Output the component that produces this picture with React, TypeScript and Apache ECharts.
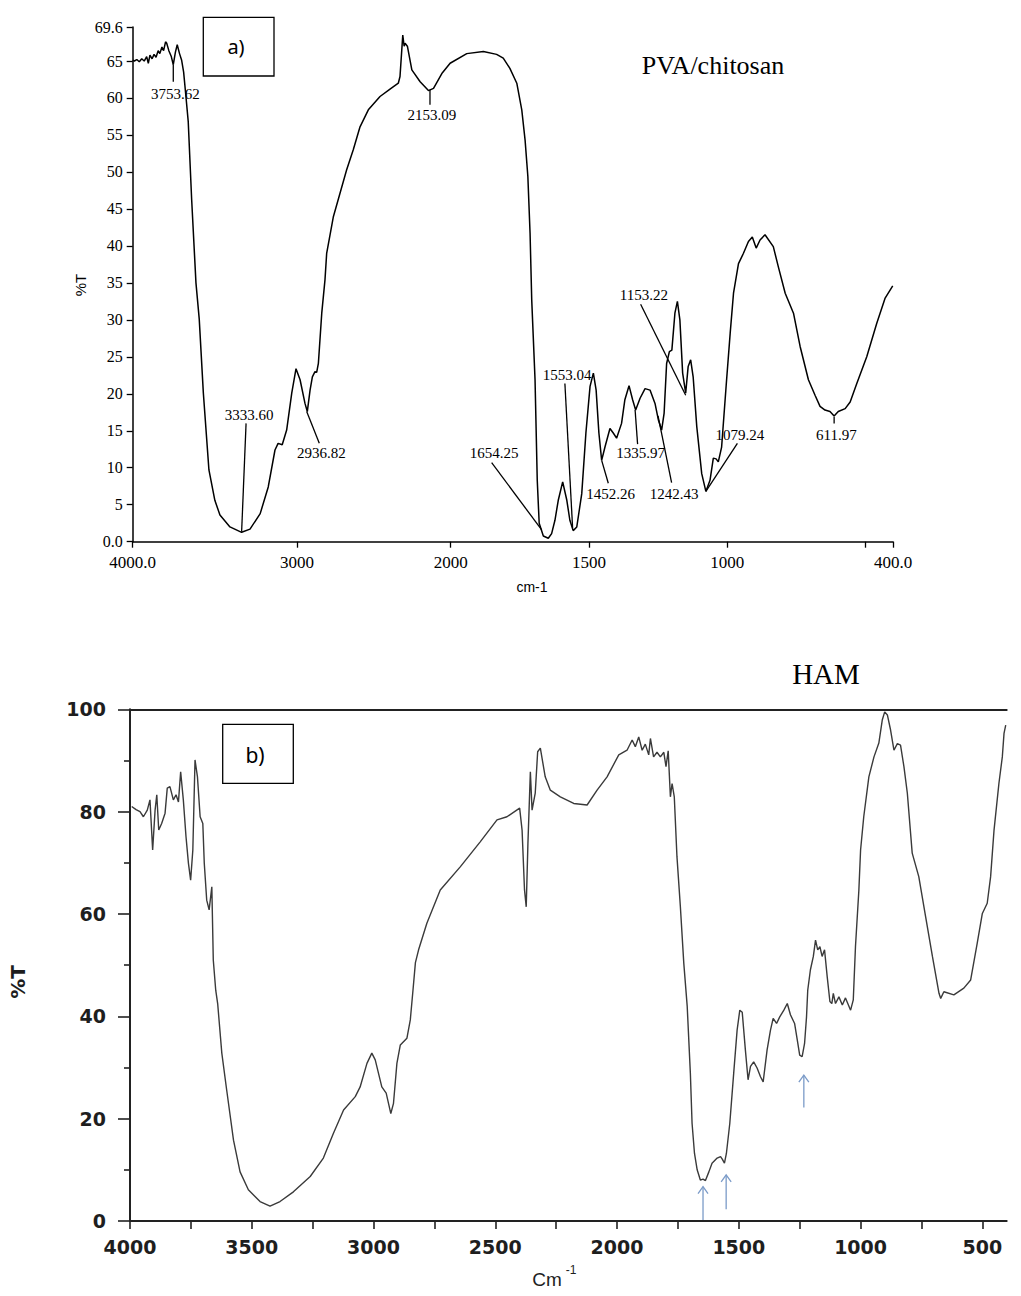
import React, { useEffect, useRef } from 'react';
import * as echarts from 'echarts';

// ---------- a) PVA/chitosan spectrum ----------
const TOP_WAVENUMBER = [
  4000, 3990, 3975, 3960, 3945, 3930, 3915, 3905, 3895, 3882, 3870, 3858, 3845, 3835, 3822, 3812, 3800, 3793, 3780, 3765,
  3753, 3740, 3729, 3715, 3702, 3690, 3676, 3662, 3641, 3615, 3595, 3570, 3536, 3500, 3469, 3408, 3337, 3286, 3224, 3175,
  3134, 3115, 3090, 3063, 3032, 3006, 2980, 2948, 2933, 2915, 2900, 2883, 2872, 2861, 2839, 2818, 2807, 2764, 2677, 2634,
  2590, 2536, 2460, 2395, 2341, 2330, 2312, 2303, 2297, 2282, 2253, 2199, 2145, 2112, 2058, 2004, 1942, 1882, 1834, 1810,
  1786, 1761, 1743, 1731, 1721, 1713, 1707, 1695, 1687, 1680, 1665, 1647, 1635, 1623, 1611, 1595, 1580, 1569, 1557, 1544,
  1526, 1511, 1496, 1484, 1474, 1464, 1454, 1442, 1424, 1412, 1400, 1382, 1370, 1355, 1342, 1331, 1315, 1297, 1279, 1261,
  1249, 1237, 1228, 1219, 1209, 1200, 1189, 1180, 1171, 1161, 1150, 1141, 1132, 1123, 1110, 1092, 1077, 1062, 1050, 1040,
  1032, 1020, 1002, 989, 977, 959, 941, 923, 909, 895, 881, 863, 833, 815, 790, 760, 736, 706, 682, 664,
  646, 628, 613, 598, 573, 555, 531, 495, 459, 429, 401,
];
const TOP_T = [
  65.1, 65.0, 65.2, 64.9, 65.3, 65.0, 65.6, 64.7, 65.8, 65.3, 65.9, 65.5, 66.4, 66.0, 66.9, 66.4, 67.6, 67.4, 66.4, 65.6,
  64.5, 66.2, 67.2, 66.0, 65.1, 63.5, 60.2, 56.8, 46.2, 35.0, 30.1, 20.1, 9.7, 5.6, 3.6, 2.0, 1.27, 1.7, 3.8, 7.4,
  12.4, 13.3, 13.1, 15.1, 20.1, 23.4, 21.9, 18.7, 17.6, 20.5, 22.3, 23.0, 22.9, 24.1, 30.9, 35.4, 39.0, 43.9, 50.3, 53.0,
  56.1, 58.4, 60.2, 61.2, 62.0, 62.9, 68.5, 67.0, 67.4, 67.0, 63.8, 62.2, 61.0, 61.3, 63.3, 64.7, 66.0, 66.3, 65.9, 65.4,
  64.0, 62.0, 58.4, 54.3, 49.4, 41.7, 32.7, 21.9, 8.3, 2.5, 0.77, 0.46, 1.1, 2.9, 5.6, 8.1, 5.6, 2.9, 1.5, 2.0,
  6.5, 14.7, 21.0, 22.8, 20.5, 14.7, 11.0, 12.8, 15.3, 14.7, 14.0, 16.0, 19.2, 21.1, 19.2, 17.8, 19.4, 20.7, 20.5, 18.7,
  16.5, 15.1, 17.4, 24.1, 25.7, 25.9, 30.9, 32.5, 30.0, 22.8, 20.1, 23.7, 24.6, 22.3, 15.6, 9.2, 6.8, 8.3, 11.3, 11.2,
  10.8, 12.8, 21.9, 28.2, 33.6, 37.6, 39.0, 40.6, 41.2, 39.7, 40.8, 41.5, 39.9, 37.2, 33.6, 30.9, 26.4, 21.9, 19.8, 18.3,
  17.8, 17.6, 17.0, 17.6, 18.0, 18.9, 21.4, 25.0, 29.5, 32.9, 34.6,
];

// The instrument plot compresses 4000-2000 cm-1 relative to 2000-400 cm-1.
const TOP_SCALE_WAVENUMBER = [4000, 3000, 2000, 400];
const TOP_SCALE_POSITION = [0, 0.2161, 0.4183, 1];

const TOP_X_TICKS = [4000, 3000, 2000, 1500, 1000, 500, 400];
const TOP_X_LABEL_VALUES = [4000, 3000, 2000, 1500, 1000, 400];
const TOP_X_LABEL_TEXT = ['4000.0', '3000', '2000', '1500', '1000', '400.0'];
const TOP_Y_TICKS = [0, 5, 10, 15, 20, 25, 30, 35, 40, 45, 50, 55, 60, 65, 69.6];

const TOP_PEAK_LABELS = ['3753.62', '3333.60', '2936.82', '2153.09', '1654.25', '1553.04', '1452.26', '1335.97', '1242.43', '1153.22', '1079.24', '611.97'];
const TOP_PEAK_TEXT_W = [3740, 3292, 2841, 2122, 1843, 1579, 1422, 1313, 1192, 1301, 954, 605];
const TOP_PEAK_TEXT_T = [60.6, 17.1, 12.0, 57.7, 12.0, 22.5, 6.5, 12.0, 6.5, 33.4, 14.4, 14.4];
const TOP_LEADER_FROM_W = [3753, 3310, 2855, 2135, 1852, 1587, 1430, 1324, 1201, 1313, 963, 613];
const TOP_LEADER_FROM_T = [64.5, 16.0, 13.3, 61.1, 10.7, 21.4, 7.9, 13.2, 8.0, 32.1, 13.3, 16.9];
const TOP_LEADER_TO_W = [3753, 3337, 2937, 2135, 1671, 1559, 1454, 1333, 1250, 1150, 1077, 613];
const TOP_LEADER_TO_T = [62.2, 1.35, 17.6, 59.1, 1.6, 1.8, 11.0, 17.8, 17.0, 19.8, 6.8, 16.0];

// ---------- b) HAM spectrum ----------
const BOTTOM_WAVENUMBER = [
  3993, 3975, 3959, 3945, 3929, 3918, 3907, 3897, 3890, 3882, 3870, 3856, 3847, 3836, 3822, 3811, 3801, 3792, 3781, 3770,
  3760, 3751, 3742, 3733, 3723, 3712, 3701, 3695, 3685, 3675, 3664, 3658, 3648, 3640, 3623, 3603, 3575, 3548, 3514, 3466,
  3425, 3384, 3329, 3260, 3206, 3165, 3123, 3075, 3055, 3027, 3007, 2993, 2966, 2948, 2929, 2918, 2904, 2890, 2863, 2849,
  2838, 2828, 2815, 2781, 2726, 2644, 2562, 2493, 2452, 2400, 2390, 2380, 2373, 2366, 2356, 2349, 2336, 2326, 2315, 2295,
  2274, 2233, 2178, 2123, 2082, 2041, 1993, 1959, 1938, 1925, 1911, 1897, 1884, 1870, 1863, 1850, 1836, 1822, 1808, 1799,
  1790, 1781, 1774, 1765, 1754, 1740, 1726, 1712, 1699, 1692, 1682, 1671, 1658, 1647, 1637, 1623, 1610, 1589, 1575, 1568,
  1559, 1551, 1537, 1521, 1507, 1496, 1486, 1473, 1462, 1452, 1439, 1425, 1411, 1400, 1384, 1370, 1359, 1345, 1332, 1315,
  1301, 1288, 1271, 1260, 1250, 1240, 1230, 1222, 1217, 1206, 1194, 1185, 1176, 1167, 1158, 1148, 1137, 1126, 1118, 1112,
  1103, 1089, 1075, 1062, 1041, 1030, 1021, 1007, 1000, 987, 966, 945, 925, 911, 901, 890, 877, 863, 849, 836,
  822, 808, 788, 761, 733, 705, 678, 671, 658, 617, 576, 548, 521, 500, 480, 466, 452, 432, 418, 411,
  404,
];
const BOTTOM_T = [
  81.0, 80.4, 80.0, 79.0, 80.3, 82.3, 72.5, 80.3, 83.3, 76.4, 77.7, 79.7, 84.6, 84.9, 82.3, 83.3, 81.9, 87.8, 82.3, 75.1,
  69.9, 66.6, 72.5, 90.1, 86.8, 79.0, 77.7, 69.9, 62.7, 60.8, 65.3, 51.0, 45.1, 42.5, 32.8, 25.6, 15.8, 9.6, 6.1, 3.8,
  2.9, 3.8, 5.7, 8.7, 12.3, 17.1, 21.7, 24.3, 26.2, 30.8, 32.8, 31.5, 26.2, 25.0, 21.0, 23.0, 30.8, 34.4, 35.7, 39.3,
  45.1, 50.5, 53.0, 58.2, 64.7, 69.2, 74.1, 78.4, 79.0, 80.7, 76.4, 64.7, 61.4, 73.8, 87.8, 80.3, 83.6, 91.7, 92.4, 86.8,
  84.2, 82.9, 81.6, 81.3, 84.2, 86.8, 91.1, 92.0, 94.0, 92.7, 94.6, 92.0, 93.2, 91.1, 94.3, 90.7, 91.6, 90.7, 91.6, 88.8,
  91.9, 82.9, 85.5, 82.9, 71.2, 61.4, 50.4, 42.0, 28.9, 19.1, 13.2, 10.0, 8.0, 8.2, 7.9, 9.6, 11.3, 12.3, 12.6, 12.1,
  11.3, 13.2, 19.1, 28.9, 37.3, 41.2, 40.8, 33.4, 27.6, 30.2, 31.1, 29.9, 28.2, 27.2, 33.4, 37.3, 39.6, 38.6, 39.9, 41.2,
  42.5, 40.3, 38.6, 35.4, 32.4, 32.1, 34.7, 39.9, 45.1, 49.1, 51.7, 54.9, 53.0, 53.6, 51.7, 53.0, 47.7, 42.9, 42.5, 44.5,
  42.5, 43.8, 42.2, 43.6, 41.2, 43.2, 53.6, 64.7, 72.5, 79.0, 86.8, 90.7, 93.4, 97.9, 99.5, 98.9, 96.0, 92.0, 93.3, 93.0,
  88.8, 83.6, 71.9, 67.3, 59.5, 51.7, 44.5, 43.5, 44.8, 44.2, 45.5, 47.1, 54.3, 60.1, 62.1, 67.3, 76.4, 85.5, 90.7, 95.3,
  96.9,
];
const BOTTOM_X_TICKS = [4000, 3750, 3500, 3250, 3000, 2750, 2500, 2250, 2000, 1750, 1500, 1250, 1000, 750, 500];
const BOTTOM_X_LABELS = [4000, 3500, 3000, 2500, 2000, 1500, 1000, 500];
const ARROW_W = [1647, 1552, 1233];
const ARROW_FROM_T = [0.2, 2.3, 22.2];
const ARROW_TO_T = [6.7, 9.0, 28.5];

function topU(w: number): number {
  const ws = TOP_SCALE_WAVENUMBER;
  const ps = TOP_SCALE_POSITION;
  for (let i = 0; i < ws.length - 1; i++) {
    if (w <= ws[i] && w >= ws[i + 1]) {
      return ps[i] + ((ws[i] - w) / (ws[i] - ws[i + 1])) * (ps[i + 1] - ps[i]);
    }
  }
  return w > ws[0] ? 0 : 1;
}

const SERIF = '"Liberation Serif", "Times New Roman", serif';
const SANS = '"Liberation Sans", Arial, sans-serif';
const BOLD = '"DejaVu Sans", Verdana, sans-serif';

export default function App() {
  const ref = useRef<HTMLDivElement>(null);
  useEffect(() => {
    if (!ref.current) return;
    const chart = echarts.init(ref.current, undefined, { renderer: 'svg' });
    const option: any = {
      animation: false,
      backgroundColor: '#ffffff',
      grid: [
        { left: 132.7, top: 27, width: 760.3, height: 514.7 },
        { left: 130, top: 709.3, width: 876.7, height: 511.7 },
      ],
      xAxis: [
        {
          gridIndex: 0, type: 'value', min: 0, max: 1,
          axisLine: { show: true, onZero: false, lineStyle: { color: '#000', width: 1.5 } },
          axisTick: { show: true, length: 6, customValues: TOP_X_TICKS.map(topU), lineStyle: { color: '#000', width: 1.3 } },
          axisLabel: {
            customValues: TOP_X_LABEL_VALUES.map(topU), margin: 12,
            fontFamily: SERIF, fontSize: 17, color: '#000',
            formatter: (v: number) => {
              const i = TOP_X_LABEL_VALUES.findIndex((w) => Math.abs(topU(w) - v) < 1e-6);
              return i >= 0 ? TOP_X_LABEL_TEXT[i] : '';
            },
          },
          splitLine: { show: false },
        },
        {
          gridIndex: 1, type: 'value', min: 400, max: 4000, inverse: true,
          axisLine: { show: true, onZero: false, lineStyle: { color: '#222', width: 2 } },
          axisTick: { show: true, length: 8, customValues: BOTTOM_X_TICKS, lineStyle: { color: '#222', width: 1.6 } },
          axisLabel: {
            customValues: BOTTOM_X_LABELS, margin: 16,
            fontFamily: BOLD, fontWeight: 'bold', fontSize: 19, color: '#1e1e1e',
            formatter: (v: number) => String(v),
          },
          splitLine: { show: false },
        },
        {
          gridIndex: 1, type: 'value', min: 400, max: 4000, inverse: true, position: 'top',
          axisLine: { show: true, onZero: false, lineStyle: { color: '#222', width: 2 } },
          axisTick: { show: false }, axisLabel: { show: false }, splitLine: { show: false },
        },
      ],
      yAxis: [
        {
          gridIndex: 0, type: 'value', min: 0, max: 69.6,
          axisLine: { show: true, lineStyle: { color: '#000', width: 1.5 } },
          axisTick: { show: true, length: 6, customValues: TOP_Y_TICKS, lineStyle: { color: '#000', width: 1.3 } },
          axisLabel: {
            customValues: TOP_Y_TICKS, margin: 10,
            fontFamily: SERIF, fontSize: 16, color: '#000',
            formatter: (v: number) => (v === 0 ? '0.0' : String(v)),
          },
          splitLine: { show: false },
        },
        {
          gridIndex: 1, type: 'value', min: 0, max: 100, interval: 20,
          axisLine: { show: true, lineStyle: { color: '#222', width: 2 } },
          axisTick: { show: true, length: 12, lineStyle: { color: '#222', width: 1.6 } },
          minorTick: { show: true, splitNumber: 2, length: 6, lineStyle: { color: '#222', width: 1.6 } },
          axisLabel: {
            margin: 24, fontFamily: BOLD, fontWeight: 'bold', fontSize: 19, color: '#1e1e1e',
            formatter: (v: number) => String(v),
          },
          splitLine: { show: false },
        },
      ],
      series: [
        {
          type: 'line', xAxisIndex: 0, yAxisIndex: 0, showSymbol: false, symbol: 'none',
          data: TOP_WAVENUMBER.map((w, i) => [topU(w), TOP_T[i]]),
          lineStyle: { color: '#000', width: 1.5 },
        },
        {
          type: 'custom', xAxisIndex: 0, yAxisIndex: 0, clip: false, silent: true,
          data: TOP_PEAK_TEXT_W.map((w, i) => [topU(w), TOP_PEAK_TEXT_T[i]]),
          encode: { x: 0, y: 1 },
          renderItem: (params: any, api: any) => {
            const i = params.dataIndex;
            const pt = api.coord([topU(TOP_PEAK_TEXT_W[i]), TOP_PEAK_TEXT_T[i]]);
            const a = api.coord([topU(TOP_LEADER_FROM_W[i]), TOP_LEADER_FROM_T[i]]);
            const b = api.coord([topU(TOP_LEADER_TO_W[i]), TOP_LEADER_TO_T[i]]);
            return {
              type: 'group',
              children: [
                { type: 'line', shape: { x1: a[0], y1: a[1], x2: b[0], y2: b[1] }, style: { stroke: '#000', lineWidth: 1.3 } },
                {
                  type: 'text', x: pt[0], y: pt[1],
                  style: {
                    text: TOP_PEAK_LABELS[i], font: '15px ' + SERIF, fill: '#000',
                    align: 'center', verticalAlign: 'middle', textAlign: 'center', textVerticalAlign: 'middle',
                  },
                },
              ],
            };
          },
        },
        {
          type: 'line', xAxisIndex: 1, yAxisIndex: 1, showSymbol: false, symbol: 'none',
          data: BOTTOM_WAVENUMBER.map((w, i) => [w, BOTTOM_T[i]]),
          lineStyle: { color: '#3a3a3a', width: 1.4 },
        },
        {
          type: 'custom', xAxisIndex: 1, yAxisIndex: 1, clip: false, silent: true,
          data: ARROW_W.map((w, i) => [w, ARROW_TO_T[i]]),
          encode: { x: 0, y: 1 },
          renderItem: (params: any, api: any) => {
            const i = params.dataIndex;
            const base = api.coord([ARROW_W[i], ARROW_FROM_T[i]]);
            const tip = api.coord([ARROW_W[i], ARROW_TO_T[i]]);
            const st = { stroke: '#7b9bc8', lineWidth: 1.3, fill: 'none' };
            return {
              type: 'group',
              children: [
                { type: 'line', shape: { x1: base[0], y1: base[1], x2: tip[0], y2: tip[1] }, style: st },
                { type: 'polyline', shape: { points: [[tip[0] - 5, tip[1] + 7], [tip[0], tip[1]], [tip[0] + 5, tip[1] + 7]] }, style: st },
              ],
            };
          },
        },
      ],
      graphic: [
        { type: 'rect', shape: { x: 203.3, y: 17.3, width: 70.7, height: 58.7 }, style: { fill: '#fff', stroke: '#000', lineWidth: 1.3 }, z: 10 },
        { type: 'text', x: 236, y: 46, z: 11, style: { text: 'a)', font: '20px "Noto Sans", sans-serif', fill: '#000', align: 'center', verticalAlign: 'middle' } },
        { type: 'text', x: 713, y: 65, style: { text: 'PVA/chitosan', font: '26px ' + SERIF, fill: '#000', align: 'center', verticalAlign: 'middle' } },
        { type: 'text', x: 80, y: 285, rotation: Math.PI / 2, style: { text: '%T', font: '15px ' + SANS, fill: '#000', align: 'center', verticalAlign: 'middle' } },
        { type: 'text', x: 532, y: 587, style: { text: 'cm-1', font: '14px ' + SANS, fill: '#000', align: 'center', verticalAlign: 'middle' } },
        { type: 'text', x: 826, y: 674, style: { text: 'HAM', font: '29px ' + SERIF, fill: '#000', align: 'center', verticalAlign: 'middle' } },
        { type: 'rect', shape: { x: 222.7, y: 724.3, width: 70.6, height: 59 }, style: { fill: '#fff', stroke: '#000', lineWidth: 1.3 }, z: 10 },
        { type: 'text', x: 255, y: 755, z: 11, style: { text: 'b)', font: '21px "Noto Sans", sans-serif', fill: '#000', align: 'center', verticalAlign: 'middle' } },
        { type: 'text', x: 18, y: 982, rotation: Math.PI / 2, style: { text: '%T', font: 'bold 20px ' + BOLD, fill: '#1e1e1e', align: 'center', verticalAlign: 'middle' } },
        { type: 'text', x: 547, y: 1279, style: { text: 'Cm', font: '19px ' + SANS, fill: '#1e1e1e', align: 'center', verticalAlign: 'middle' } },
        { type: 'text', x: 571, y: 1270, style: { text: '-1', font: '12px ' + SANS, fill: '#1e1e1e', align: 'center', verticalAlign: 'middle' } },
      ],
    };
    chart.setOption(option);
    return () => chart.dispose();
  }, []);
  return (
    <div
      ref={ref}
      style={{ position: 'absolute', left: 0, top: 0, width: 1021, height: 1296, background: '#fff' }}
    />
  );
}
